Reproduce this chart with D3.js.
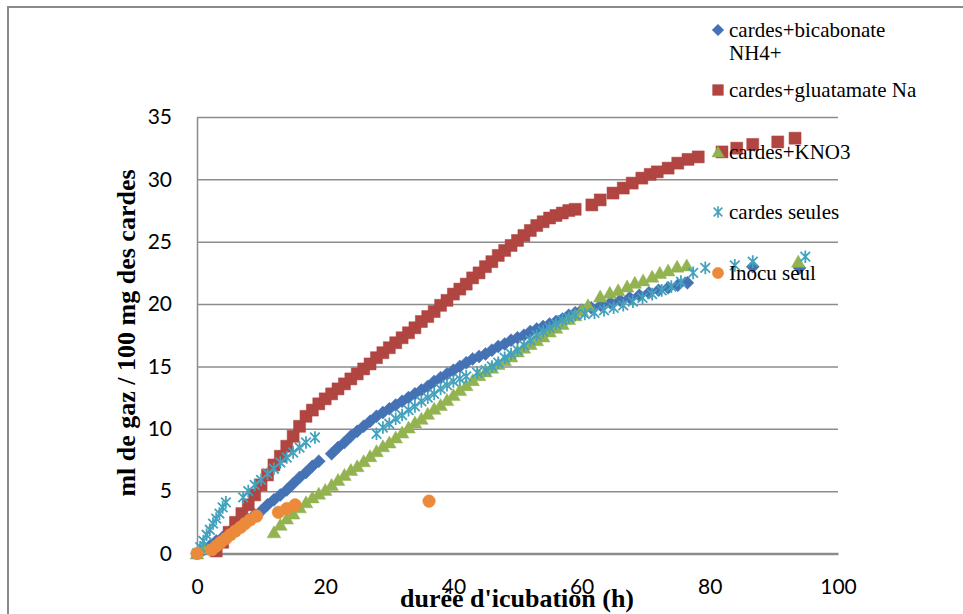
<!DOCTYPE html>
<html>
<head>
<meta charset="utf-8">
<script src="https://cdn.jsdelivr.net/npm/d3@7"></script>
<style>
  body { margin: 0; background: #fff; }
  .tick text { font-family: Lato, "Open Sans", sans-serif; font-size: 21px; fill: #000; }
</style>
</head>
<body>
<div id="chart"></div>
<script>
/* DATA */
const xTicks = [0, 20, 40, 60, 80, 100];
const yTicks = [0, 5, 10, 15, 20, 25, 30, 35];

// cardes+bicabonate NH4+
const tBic = [0,1,2,3,4,5,6,7,8,9,10,11,12,13,14,15,16,17,18,19,21,22,23,24,25,26,27,28,29,30,31,32,33,34,35,36,37,38,39,40,41,42,43,44,45,46,47,48,49,50,51,52,53,54,55,56,57,58,59,60,61.5,63,64.5,66,67.5,69,70.5,72,73.5,75,76.5,86.7,94];
const vBic = [0,0.3,0.6,1.0,1.3,1.7,2.0,2.4,2.7,3.1,3.4,3.9,4.3,4.7,5.1,5.6,6.1,6.5,7.0,7.4,8.0,8.5,8.9,9.4,9.8,10.2,10.6,11.0,11.3,11.6,11.9,12.2,12.5,12.8,13.1,13.4,13.8,14.1,14.4,14.7,15.0,15.3,15.6,15.8,16.0,16.3,16.6,16.8,17.1,17.3,17.5,17.8,18.0,18.2,18.4,18.6,18.8,19.1,19.3,19.5,19.7,19.9,20.1,20.3,20.5,20.7,20.9,21.1,21.3,21.5,21.7,23.0,22.9];

// cardes+gluatamate Na
const tGlu = [3,4,5,6,7,8,9,10,11,12,13,14,15,16,17,18,19,20,21,22,23,24,25,26,27,28,29,30,31,32,33,34,35,36,37,38,39,40,41,42,43,44,45,46,47,48,49,50,51,52,53,54,55,56,57,58,59,61.6,62.9,64.9,66.5,67.9,69.4,70.7,71.8,73.5,75.0,76.6,78.2,81.9,84.2,86.7,90.6,93.3];
const vGlu = [0.2,0.9,1.7,2.5,3.2,3.9,4.7,5.5,6.3,7.1,7.8,8.6,9.4,10.2,11.0,11.5,12.0,12.4,12.8,13.2,13.6,14.0,14.4,14.8,15.2,15.7,16.1,16.5,16.9,17.3,17.7,18.1,18.6,19.0,19.4,19.9,20.3,20.8,21.2,21.6,22.1,22.5,23.0,23.4,23.9,24.3,24.7,25.1,25.5,25.9,26.3,26.6,26.9,27.1,27.3,27.5,27.6,27.95,28.35,28.9,29.3,29.7,30.1,30.4,30.6,30.9,31.3,31.6,31.8,32.2,32.5,32.8,33.0,33.3];

// cardes+KNO3
const tKno = [0,1,12,13,14,15,16,17,18,19,20,21,22,23,24,25,26,27,28,29,30,31,32,33,34,35,36,37,38,39,40,41,42,43,44,45,46,47,48,49,50,51,52,53,54,55,56,57,58,59,60,61,62.9,64.4,65.7,67.1,68.3,69.6,71.0,72.2,73.5,74.9,76.4,93.8];
const vKno = [0,0.4,1.7,2.3,2.8,3.2,3.7,4.1,4.5,4.8,5.1,5.5,5.9,6.3,6.7,7.0,7.4,7.8,8.2,8.6,8.9,9.3,9.7,10.1,10.5,10.8,11.2,11.6,11.9,12.3,12.7,13.1,13.5,13.9,14.3,14.6,14.9,15.2,15.5,15.8,16.2,16.5,16.8,17.1,17.4,17.8,18.1,18.4,18.8,19.1,19.5,19.9,20.6,20.9,21.1,21.4,21.7,21.9,22.2,22.5,22.7,23.0,23.1,23.4];

// cardes seules
const tSeul = [0,0.5,1,1.5,2,2.5,3,3.5,4,4.5,7.2,8,9,10,11,12,13,14,15,16,17,18.4,28,29,30,31,32,33,34,35,36,37,38,39,40,41,42,43.7,45,46,47,48,49,50,51,52,53,54,55,56,57,58,59,60.5,62,63.5,65,66.5,68,69.5,71,72.5,74,75.5,77.4,79.3,83.9,86.7,94.9];
const vSeul = [0,0.5,1.0,1.5,1.9,2.4,2.8,3.2,3.7,4.1,4.5,5.0,5.5,5.9,6.4,6.8,7.3,7.7,8.1,8.5,8.9,9.3,9.6,10.1,10.4,10.8,11.1,11.5,11.8,12.2,12.5,12.8,13.2,13.5,13.8,14.0,14.2,14.5,14.7,15.0,15.3,15.7,16.0,16.3,16.7,17.1,17.5,17.8,18.1,18.4,18.7,18.9,19.1,19.2,19.3,19.5,19.7,19.9,20.2,20.5,20.8,21.1,21.4,21.8,22.5,22.9,23.1,23.4,23.8];

// Inocu seul
const tInoc = [0,2.3,3.0,3.7,4.5,5.2,6.0,6.8,7.5,8.3,9.3,12.7,14.0,15.3,36.2];
const vInoc = [0,0.3,0.6,0.9,1.2,1.5,1.8,2.1,2.4,2.7,3.0,3.3,3.6,3.9,4.2];

const seriesNames = ["cardes+bicabonate NH4+", "cardes+gluatamate Na", "cardes+KNO3", "cardes seules", "Inocu seul"];

/* LAYOUT */
const width = 963, height = 614;
const plot = { left: 197, right: 838, top: 117, bottom: 553.5 };
const gridColor = "#8c8c8c";

const markers = {
  diamond: "M0,-6.5L6.5,0L0,6.5L-6.5,0Z",
  square: "M-6,-6H6V6H-6Z",
  triangle: "M0,-6.5L6.8,5.5L-6.8,5.5Z",
  star: "M-4.8,-4.8L4.8,4.8M-4.8,4.8L4.8,-4.8M0,-6.3V6.3",
  circle: "M6.3,0A6.3,6.3 0 1,1 -6.3,0A6.3,6.3 0 1,1 6.3,0Z"
};

const series = [
  { name: seriesNames[0], t: tBic, v: vBic, color: "#4472b4", shape: "diamond" },
  { name: seriesNames[1], t: tGlu, v: vGlu, color: "#b04541", shape: "square" },
  { name: seriesNames[2], t: tKno, v: vKno, color: "#92b350", shape: "triangle" },
  { name: seriesNames[3], t: tSeul, v: vSeul, color: "#43a2bd", shape: "star" },
  { name: seriesNames[4], t: tInoc, v: vInoc, color: "#ec8a3c", shape: "circle" }
];

const svg = d3.select("#chart").append("svg")
  .attr("width", width)
  .attr("height", height);

// chart border (runs off the frame on the right and bottom)
svg.append("rect")
  .attr("x", 8).attr("y", 7)
  .attr("width", 1000).attr("height", 700)
  .attr("fill", "none")
  .attr("stroke", "#8a8a8a")
  .attr("stroke-width", 2);

/* SCALES */
const xScale = d3.scaleLinear().domain([0, 100]).range([plot.left, plot.right]);
const yScale = d3.scaleLinear().domain([0, 35]).range([plot.bottom, plot.top]);

/* AXES */
const yAxis = d3.axisLeft(yScale)
  .tickValues(yTicks)
  .tickSize(-(plot.right - plot.left))
  .tickSizeOuter(0)
  .tickPadding(25);

svg.append("g")
  .attr("class", "axis y-axis")
  .attr("transform", `translate(${plot.left},0)`)
  .call(yAxis)
  .call(g => g.selectAll(".tick line").attr("stroke", gridColor).attr("stroke-width", 1.5))
  .call(g => g.select(".domain").attr("stroke", gridColor).attr("stroke-width", 1.5));

const xAxis = d3.axisBottom(xScale)
  .tickValues(xTicks)
  .tickSize(0)
  .tickPadding(26);

svg.append("g")
  .attr("class", "axis x-axis")
  .attr("transform", `translate(0,${plot.bottom})`)
  .call(xAxis)
  .call(g => g.select(".domain").attr("stroke", gridColor).attr("stroke-width", 2.5));

/* MARKS */
series.forEach(s => {
  const pts = s.t.map((t, i) => ({ t: t, v: s.v[i] }));
  const g = svg.append("g").attr("class", "series");
  g.selectAll("path")
    .data(pts)
    .join("path")
    .attr("d", markers[s.shape])
    .attr("transform", d => `translate(${xScale(d.t)},${yScale(d.v)})`)
    .attr("fill", s.shape === "star" ? "none" : s.color)
    .attr("stroke", s.color)
    .attr("stroke-width", s.shape === "star" ? 1.8 : 0.5);
});

/* AXIS TITLES */
svg.append("text")
  .attr("transform", "translate(135,333) rotate(-90)")
  .attr("text-anchor", "middle")
  .attr("font-family", "'Liberation Serif', 'Times New Roman', serif")
  .attr("font-weight", "bold")
  .attr("font-size", 26)
  .text("ml de gaz / 100 mg des cardes");

svg.append("text")
  .attr("x", 517).attr("y", 607)
  .attr("text-anchor", "middle")
  .attr("font-family", "'Liberation Serif', 'Times New Roman', serif")
  .attr("font-weight", "bold")
  .attr("font-size", 26)
  .text("durée d'icubation (h)");

/* LEGEND */
const legendRows = [
  { s: 0, y: 30, lines: ["cardes+bicabonate", "NH4+"] },
  { s: 1, y: 90, lines: ["cardes+gluatamate Na"] },
  { s: 2, y: 152, lines: ["cardes+KNO3"] },
  { s: 3, y: 212, lines: ["cardes seules"] },
  { s: 4, y: 273, lines: ["Inocu seul"] }
];

const legend = svg.append("g").attr("class", "legend");
legendRows.forEach(r => {
  const s = series[r.s];
  legend.append("path")
    .attr("d", markers[s.shape])
    .attr("transform", `translate(718,${r.y}) scale(0.9)`)
    .attr("fill", s.shape === "star" ? "none" : s.color)
    .attr("stroke", s.color)
    .attr("stroke-width", s.shape === "star" ? 1.8 : 0.5);
  r.lines.forEach((line, i) => {
    legend.append("text")
      .attr("x", 729)
      .attr("y", r.y + i * 23)
      .attr("dy", "0.33em")
      .attr("font-family", "'Liberation Serif', 'Times New Roman', serif")
      .attr("font-size", 21)
      .text(line);
  });
});
</script>
</body>
</html>
